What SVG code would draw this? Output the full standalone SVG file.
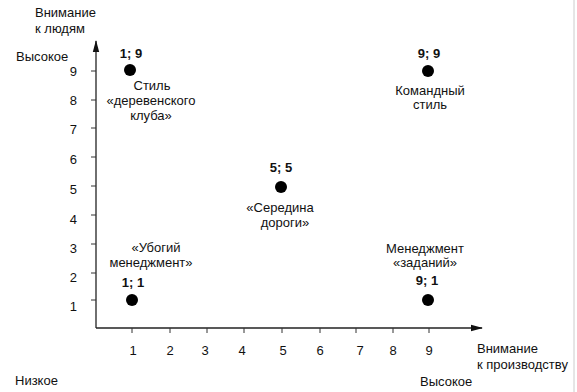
<svg xmlns="http://www.w3.org/2000/svg" width="577" height="392" viewBox="0 0 577 392">
<defs>
<style>
text{font-family:"Liberation Sans",Arial,sans-serif;font-size:13px;fill:#111}
.c{text-anchor:middle}
.r{text-anchor:end}
.b{font-weight:bold}
.ax{stroke:#222;stroke-width:1.3;fill:none}
.tk{stroke:#333;stroke-width:1}
.dot{fill:#000}
</style>
<marker id="arr" markerWidth="12" markerHeight="8" refX="11" refY="4" orient="auto" markerUnits="userSpaceOnUse">
<path d="M0,0.8 L12,4 L0,7.2 Z" fill="#111"/>
</marker>
</defs>
<rect width="577" height="392" fill="#fff"/>
<line x1="574" y1="0" x2="574" y2="392" stroke="#ccc" stroke-width="1"/>
<g id="axes">
<line class="ax" x1="96" y1="328" x2="96" y2="41" marker-end="url(#arr)"/>
<line class="ax" x1="96" y1="328" x2="482" y2="328" marker-end="url(#arr)"/>
<g class="tk">
<line x1="91" y1="71" x2="96" y2="71"/>
<line x1="91" y1="100" x2="96" y2="100"/>
<line x1="91" y1="128" x2="96" y2="128"/>
<line x1="91" y1="157" x2="96" y2="157"/>
<line x1="91" y1="186" x2="96" y2="186"/>
<line x1="91" y1="215" x2="96" y2="215"/>
<line x1="91" y1="244" x2="96" y2="244"/>
<line x1="91" y1="273" x2="96" y2="273"/>
<line x1="91" y1="300" x2="96" y2="300"/>
<line x1="132" y1="328" x2="132" y2="333"/>
<line x1="170" y1="328" x2="170" y2="333"/>
<line x1="207" y1="328" x2="207" y2="333"/>
<line x1="244" y1="328" x2="244" y2="333"/>
<line x1="282" y1="328" x2="282" y2="333"/>
<line x1="320" y1="328" x2="320" y2="333"/>
<line x1="356" y1="328" x2="356" y2="333"/>
<line x1="393" y1="328" x2="393" y2="333"/>
<line x1="429" y1="328" x2="429" y2="333"/>
</g>
<g class="r">
<text x="77" y="76">9</text>
<text x="77" y="105">8</text>
<text x="77" y="134">7</text>
<text x="77" y="164">6</text>
<text x="77" y="194">5</text>
<text x="77" y="224">4</text>
<text x="77" y="253">3</text>
<text x="77" y="282">2</text>
<text x="77" y="311">1</text>
</g>
<g class="c">
<text x="133" y="355">1</text>
<text x="170" y="355">2</text>
<text x="205" y="355">3</text>
<text x="242" y="355">4</text>
<text x="283" y="355">5</text>
<text x="320" y="355">6</text>
<text x="360" y="355">7</text>
<text x="393" y="355">8</text>
<text x="429" y="355">9</text>
</g>
<text x="35" y="17">Внимание</text>
<text x="35" y="33">к людям</text>
<text x="16" y="61">Высокое</text>
<text x="15" y="385">Низкое</text>
<text x="477" y="353">Внимание</text>
<text x="477" y="369">к производству</text>
<text x="420" y="386">Высокое</text>
</g>
<g id="connectors"></g>
<g id="node-1-9">
<circle class="dot" cx="130" cy="70" r="6"/>
<text class="c b" x="131" y="58">1; 9</text>
<text class="c" x="152" y="90">Стиль</text>
<text class="c" x="151" y="105">«деревенского</text>
<text class="c" x="151" y="120">клуба»</text>
</g>
<g id="node-9-9">
<circle class="dot" cx="428" cy="71" r="6"/>
<text class="c b" x="429" y="58">9; 9</text>
<text class="c" x="430" y="95">Командный</text>
<text class="c" x="430" y="109">стиль</text>
</g>
<g id="node-5-5">
<circle class="dot" cx="281" cy="187" r="6"/>
<text class="c b" x="281" y="172">5; 5</text>
<text class="c" x="280" y="212">«Середина</text>
<text class="c" x="285" y="227">дороги»</text>
</g>
<g id="node-1-1">
<circle class="dot" cx="132" cy="300" r="6"/>
<text class="c b" x="133" y="287">1; 1</text>
<text class="c" x="156" y="252">«Убогий</text>
<text class="c" x="151" y="267">менеджмент»</text>
</g>
<g id="node-9-1">
<circle class="dot" cx="428" cy="300" r="6"/>
<text class="c b" x="427" y="285">9; 1</text>
<text class="c" x="425" y="253">Менеджмент</text>
<text class="c" x="425" y="267">«заданий»</text>
</g>
</svg>
